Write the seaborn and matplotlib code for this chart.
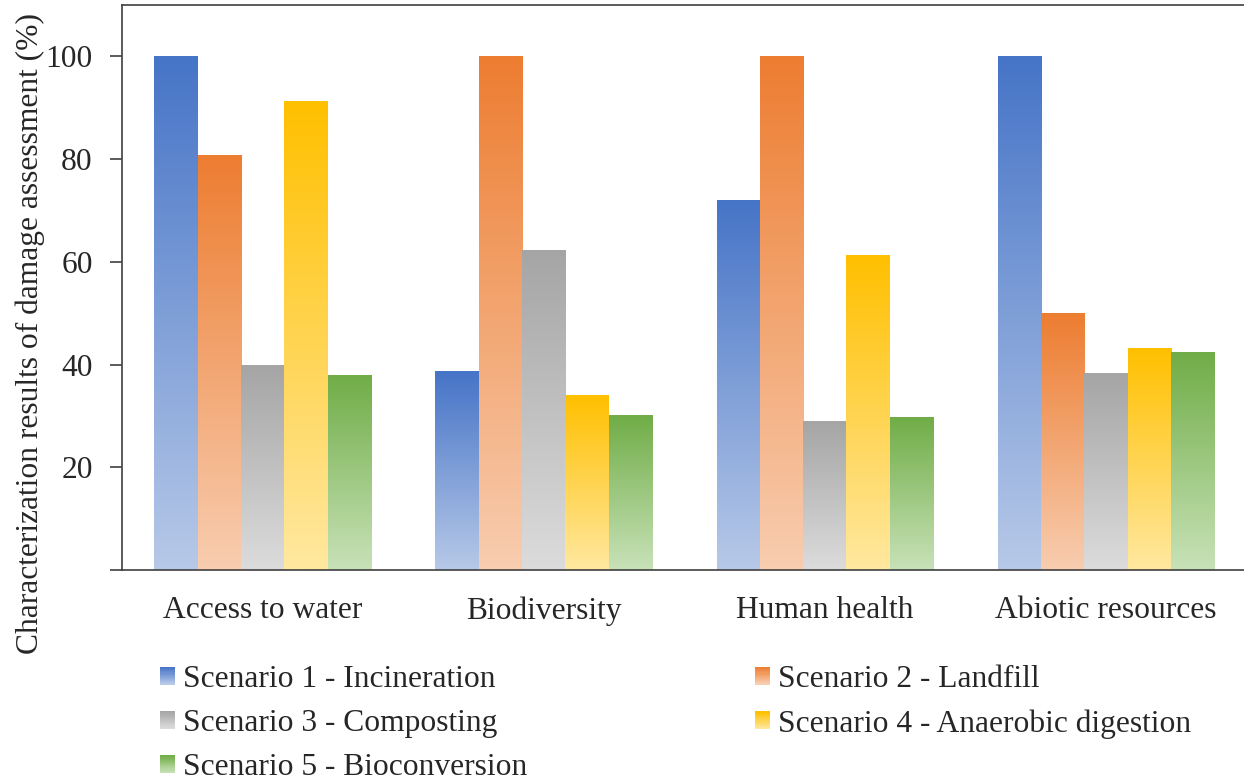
import numpy as np
import pandas as pd
import matplotlib
matplotlib.use("Agg")
import matplotlib.pyplot as plt
import seaborn as sns
from matplotlib.patches import Rectangle, Patch
from matplotlib.legend_handler import HandlerBase
from matplotlib.colors import to_rgb

categories = ["Access to water", "Biodiversity", "Human health", "Abiotic resources"]
scenarios = ["Scenario 1 - Incineration", "Scenario 2 - Landfill", "Scenario 3 - Composting",
             "Scenario 4 - Anaerobic digestion", "Scenario 5 - Bioconversion"]
s1 = [100.0, 38.7, 72.0, 100.0]
s2 = [80.7, 100.0, 100.0, 49.9]
s3 = [39.8, 62.2, 28.9, 38.2]
s4 = [91.2, 33.9, 61.3, 43.1]
s5 = [37.9, 30.0, 29.6, 42.3]
yticks = [0, 20, 40, 60, 80, 100]
ytick_labels = ["", "20", "40", "60", "80", "100"]
ylabel = "Characterization results of damage assessment (%)"

top_colors = ["#4674c7", "#ed7d31", "#a5a5a5", "#ffc000", "#70ad47"]
bottom_colors = ["#b7c9e8", "#f8cdb0", "#dcdcdc", "#ffe8a0", "#c8e2b8"]

values = [s1, s2, s3, s4, s5]
df = pd.DataFrame({
    "category": [c for s in scenarios for c in categories],
    "scenario": [s for s in scenarios for c in categories],
    "value": [v for vals in values for v in vals],
})

sns.set_theme(style="white")
plt.rcParams["font.family"] = ["Liberation Serif", "DejaVu Serif"]
FS = 22.7

fig = plt.figure(figsize=(12.44, 7.82), dpi=100)
ax = fig.add_axes([122 / 1244, 1 - 570 / 782, 1 - 122 / 1244 + 0.002, (570 - 5) / 782])

sns.barplot(data=df, x="category", y="value", hue="scenario", hue_order=scenarios,
            order=categories, palette=top_colors, width=0.77, ax=ax, legend=False,
            saturation=1)

# gradient fills
for i, patch in enumerate(ax.patches):
    hue_idx = i // len(categories)
    x0, y0 = patch.get_x(), patch.get_y()
    w, h = patch.get_width(), patch.get_height()
    top = np.array(to_rgb(top_colors[hue_idx]))
    bot = np.array(to_rgb(bottom_colors[hue_idx]))
    t = np.linspace(0, 1, 256)[:, None]
    grad = bot[None, :] * (1 - t) + top[None, :] * t
    img = grad[:, None, :]
    ax.imshow(img, extent=[x0, x0 + w, y0, y0 + h], origin="lower", aspect="auto",
              interpolation="bilinear", zorder=2)
    patch.set_visible(False)

ax.set_xlim(-0.5, 3.5)
ax.set_ylim(0, 110)
ax.set_yticks(yticks)
ax.set_yticklabels(ytick_labels)
ax.set_xlabel("")
ax.set_ylabel("")
ax.tick_params(axis="y", which="both", direction="out", length=9, width=1.2,
               color="#404040", labelsize=FS, pad=12, left=True)
ax.tick_params(axis="x", length=0, labelsize=FS, pad=19)
for side in ["left", "bottom", "top"]:
    ax.spines[side].set_visible(True)
    ax.spines[side].set_color("#404040")
    ax.spines[side].set_linewidth(1.2)
ax.spines["right"].set_visible(False)
ax.grid(False)

fig.text(30 / 1244, 1 - 333 / 782, ylabel, rotation=90, ha="center", va="center",
         fontsize=FS)


class GradHandler(HandlerBase):
    def __init__(self, top, bottom):
        super().__init__()
        self.top = np.array(to_rgb(top))
        self.bottom = np.array(to_rgb(bottom))

    def create_artists(self, legend, orig_handle, xdescent, ydescent, width, height,
                       fontsize, trans):
        n = 16
        arts = []
        for k in range(n):
            f = k / (n - 1)
            col = self.bottom * (1 - f) + self.top * f
            r = Rectangle((-xdescent, -ydescent + k * height / n), width, height / n + 0.3,
                          facecolor=col, edgecolor="none", transform=trans)
            arts.append(r)
        return arts


handles = [Patch(label=s) for s in scenarios]
hmap = {h: GradHandler(top_colors[i], bottom_colors[i]) for i, h in enumerate(handles)}
order = [0, 2, 4, 1, 3]
leg = fig.legend([handles[i] for i in order], [scenarios[i] for i in order],
                 handler_map=hmap, ncol=2, loc="upper left",
                 bbox_to_anchor=(160 / 1244, 1 - 665 / 782), frameon=False,
                 fontsize=FS, handlelength=0.48, handleheight=0.48, handletextpad=0.26,
                 columnspacing=7.2, labelspacing=0.48, borderaxespad=0, borderpad=0)

fig.savefig("out.png", dpi=100)
